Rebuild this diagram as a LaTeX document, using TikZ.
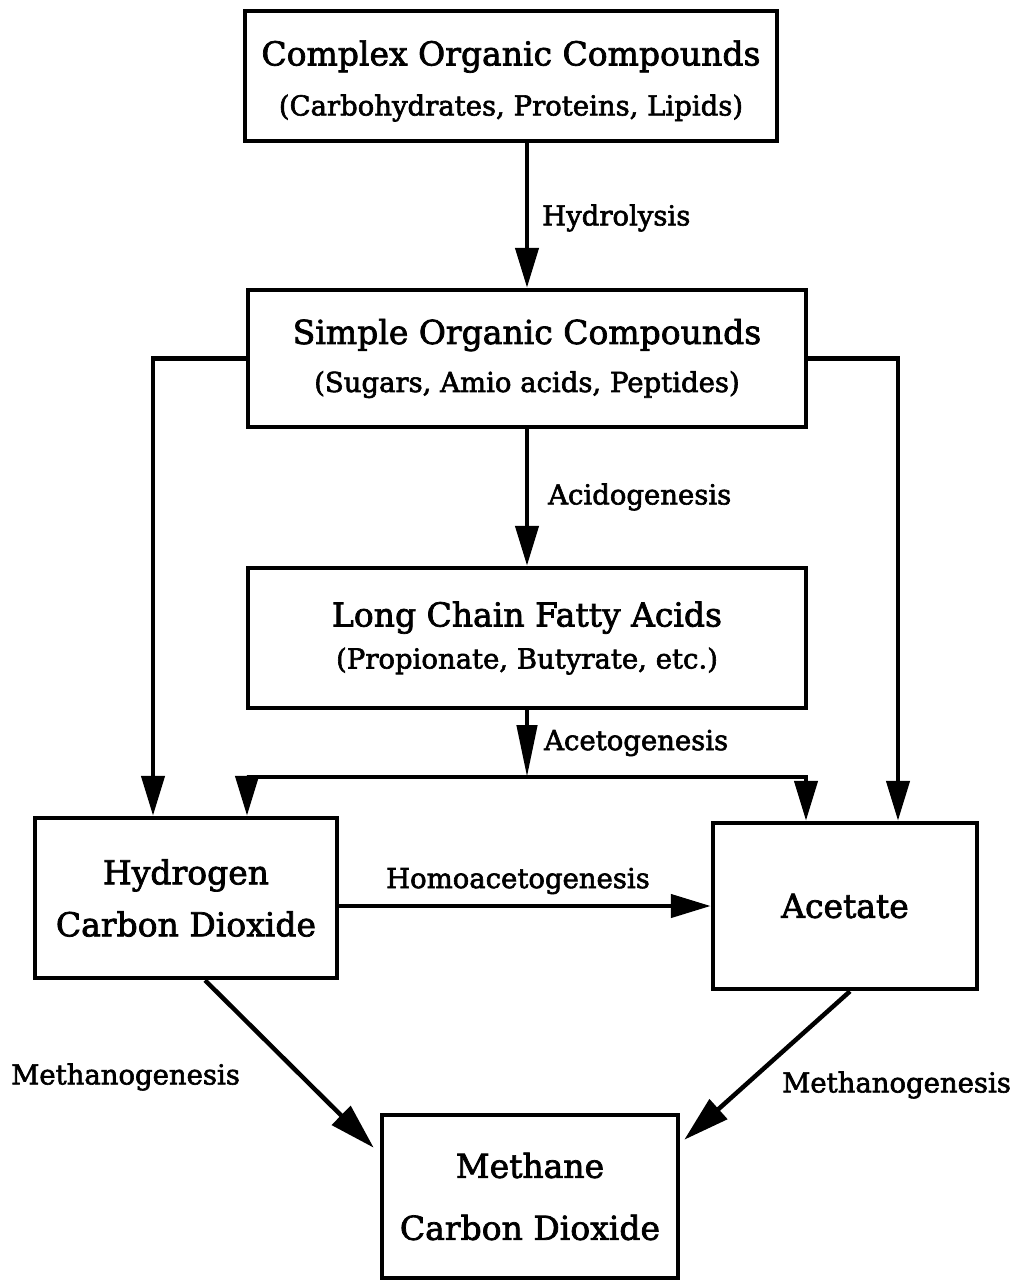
\documentclass[tikz,border=0pt]{standalone}
\usepackage{fontspec}
\setmainfont{DejaVu Serif}[BoldFont={DejaVu Serif}, BoldFeatures={FakeBold=2.2}]
\usetikzlibrary{arrows.meta,positioning}

\newcommand{\titlefont}{\fontsize{33}{38}\selectfont\bfseries}
\newcommand{\subfont}{\fontsize{27.5}{32}\selectfont\bfseries}
\newcommand{\procfont}{\fontsize{27.5}{32}\selectfont\bfseries}

\tikzset{
  stage/.style={draw, line width=4.5pt, align=center, inner sep=0pt, font=\titlefont},
  proc/.style={inner sep=0pt, font=\procfont},
  link/.style={line width=4.5pt},
  flow/.style={link, -{Triangle[length=40pt,width=23pt]}}
}

\begin{document}
\begin{tikzpicture}[x=1pt, y=-1pt]
  \useasboundingbox (0,0) rectangle (1012,1282);
  % stages
  \node[stage, minimum width=532pt, minimum height=130pt] (complex) at (511,76)
    {\rule{0pt}{35pt}Complex Organic Compounds\\[12pt]{\subfont (Carbohydrates, Proteins, Lipids)}};
  \node[stage, minimum width=558pt, minimum height=137pt] (simple) at (527,358.5)
    {Simple Organic Compounds\\[10pt]{\subfont (Sugars, Amio acids, Peptides)}};
  \node[stage, minimum width=558pt, minimum height=140pt] (lcfa) at (527,638)
    {Long Chain Fatty Acids\\[4pt]{\subfont (Propionate, Butyrate, etc.)}};
  \node[stage, minimum width=302pt, minimum height=160pt] (hyd) at (186,898)
    {Hydrogen\\[14pt]Carbon Dioxide};
  \node[stage, minimum width=264pt, minimum height=166pt] (acet) at (845,906)
    {Acetate};
  \node[stage, minimum width=296pt, minimum height=163pt] (meth) at (530,1196.5)
    {Methane\\[24pt]Carbon Dioxide};
  \coordinate (split) at (527,777);

  % hydrolysis, acidogenesis, acetogenesis
  \draw[flow] ([xshift=16pt]complex.south) -- (simple.north);
  \draw[flow] (simple.south) -- (lcfa.north);
  \draw[link, -{Triangle[length=52pt,width=20pt]}] (lcfa.south) -- (split);
  \draw[flow] (split) -| ([xshift=61pt]hyd.north);
  \draw[flow] (split) -| ([xshift=-39pt]acet.north);
  % side branches
  \draw[flow] (simple.west) -| ([xshift=-33pt]hyd.north);
  \draw[flow] (simple.east) -| ([xshift=53pt]acet.north);
  % homoacetogenesis
  \draw[flow] (hyd.east |- acet.west) -- (acet.west);
  % methanogenesis
  \draw[flow, -{Triangle[length=46pt,width=26pt]}] ([xshift=19pt]hyd.south) -- ([shift={(-6pt,-35pt)}]meth.north west);
  \draw[flow, -{Triangle[length=46pt,width=26pt]}] ([xshift=5pt]acet.south) -- ([shift={(4pt,-27pt)}]meth.north east);

  % labels
  \node[proc, anchor=west] (hydrolysis) at (542,218) {Hydrolysis};
  \node[proc, anchor=west] (acido) at (548,497) {Acidogenesis};
  \node[proc, anchor=west] (aceto) at (544,743) {Acetogenesis};
  \node[proc] (homo) at (518,881) {Homoacetogenesis};
  \node[proc, anchor=west] (methl) at (11,1077) {Methanogenesis};
  \node[proc, anchor=west] (methr) at (782,1085) {Methanogenesis};
\end{tikzpicture}
\end{document}
